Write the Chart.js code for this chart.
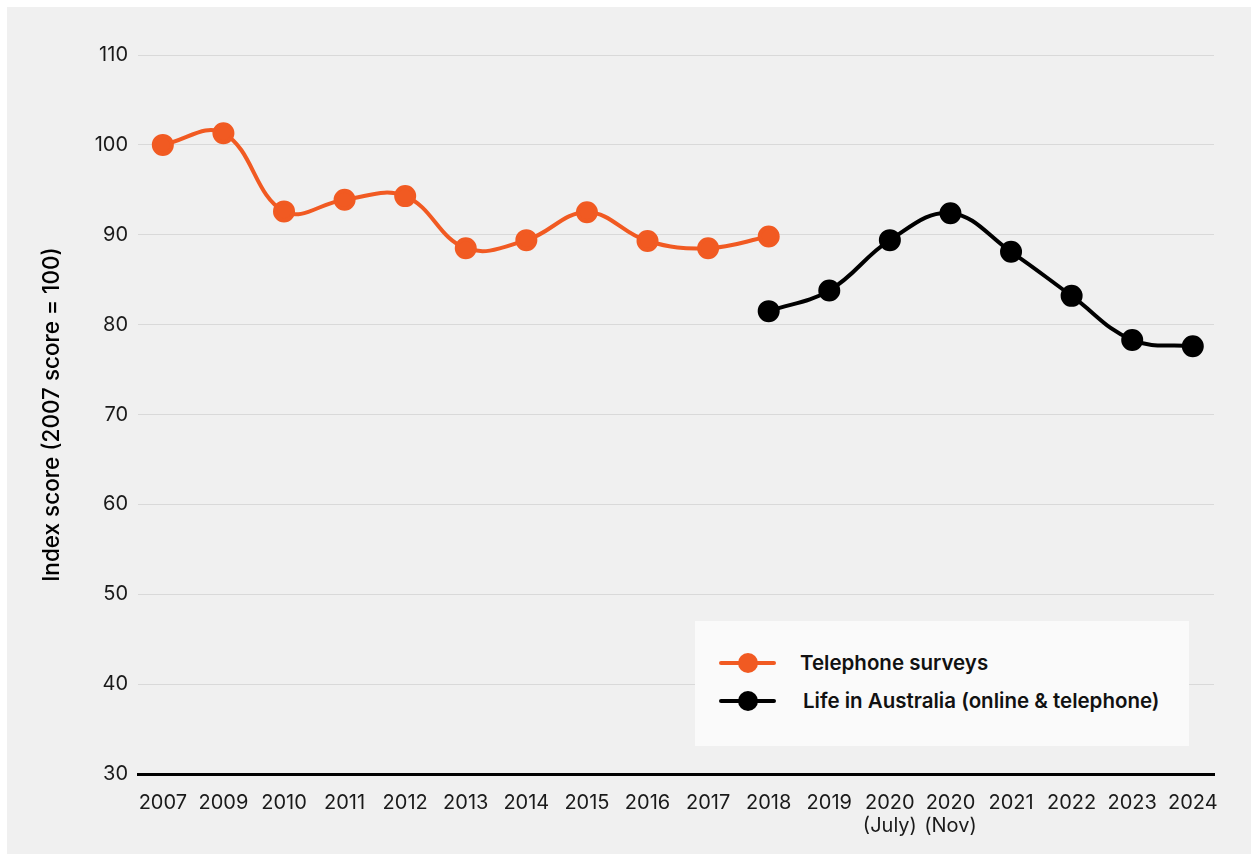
<!DOCTYPE html>
<html>
<head>
<meta charset="utf-8">
<script src="https://cdn.jsdelivr.net/npm/chart.js@4/dist/chart.umd.min.js"></script>
<style>
  body { margin: 0; background: #ffffff; }
  #wrap { position: absolute; left: 7px; top: 7px; width: 1244px; height: 847px; background: #f0f0f0; }
  #legend { position: absolute; left: 695px; top: 621px; width: 494px; height: 125px; background: #fafafa;
            font-family: Inter, "Noto Sans", sans-serif; font-weight: 600; font-size: 20.5px; color: #111; }
  .item { position: absolute; left: 24px; height: 26px; }
  .swatch { position: absolute; left: 0; top: 11px; width: 57px; height: 4px; border-radius: 2px; }
  .dot { position: absolute; left: 19px; top: 3px; width: 20px; height: 20px; border-radius: 50%; }
  .txt { position: absolute; top: 0px; white-space: nowrap; }
</style>
</head>
<body>
<div id="wrap"><canvas id="chart"></canvas></div>
<div id="legend"></div>
<script>
const ORANGE = "#f15a22";
const BLACK = "#000000";

const years = ["2007", "2009", "2010", "2011", "2012", "2013", "2014", "2015", "2016",
    "2017", "2018", "2019", ["2020", "(July)"], ["2020", "(Nov)"], "2021", "2022", "2023", "2024"];
const telephone = [100.0, 101.3, 92.6, 93.9, 94.3, 88.5, 89.4, 92.5, 89.3, 88.5, 89.8,
    null, null, null, null, null, null, null];
const lifeInAustralia = [null, null, null, null, null, null, null, null, null, null, 81.5,
    83.8, 89.4, 92.4, 88.1, 83.2, 78.3, 77.6];
const yTicks = [30, 40, 50, 60, 70, 80, 90, 100, 110];

function toPoints(values) {
    return values.map((v, i) => ({ x: i, y: v }));
}

const tickFont = { family: "Inter, 'Noto Sans', sans-serif", size: 20, lineHeight: 1.15 };

const chart = new Chart(document.getElementById("chart"), {
    type: "line",
    data: {
        datasets: [{
            label: "Telephone surveys",
            data: toPoints(telephone),
            borderColor: ORANGE,
            backgroundColor: ORANGE,
            borderWidth: 4,
            pointRadius: 9,
            tension: 0.4,
        }, {
            label: "Life in Australia (online & telephone)",
            data: toPoints(lifeInAustralia),
            borderColor: BLACK,
            backgroundColor: BLACK,
            borderWidth: 4,
            pointRadius: 9,
            tension: 0.4,
        }]
    },
    options: {
        responsive: true,
        maintainAspectRatio: false,
        animation: false,
        layout: { padding: { top: 48, right: 37, left: 0, bottom: 0 } },
        plugins: {
            legend: { display: false },
            tooltip: { enabled: false }
        },
        scales: {
            x: {
                type: "linear",
                min: -0.41,
                max: 17.35,
                afterBuildTicks: axis => { axis.ticks = years.map((_, i) => ({ value: i })); },
                afterFit: axis => { axis.height = 80; },
                ticks: {
                    callback: v => years[v],
                    color: "#1a1a1a",
                    font: tickFont,
                    padding: 17,
                    maxRotation: 0,
                    autoSkip: false
                },
                grid: { display: false, drawTicks: false },
                border: { color: "#000", width: 3 }
            },
            y: {
                min: 30,
                max: 110,
                afterBuildTicks: axis => { axis.ticks = yTicks.map(v => ({ value: v })); },
                afterFit: axis => { axis.width = 131; },
                ticks: { color: "#1a1a1a", font: tickFont, padding: 10 },
                grid: { color: "#d9d9d9", lineWidth: 1, drawTicks: false },
                border: { display: false },
                title: {
                    display: true,
                    text: "Index score (2007 score = 100)",
                    color: "#000",
                    font: { family: "Inter, 'Noto Sans', sans-serif", size: 22.5, weight: "500" },
                    padding: { top: 32, bottom: 0 }
                }
            }
        }
    }
});

// legend box built from the dataset labels
const legend = document.getElementById("legend");
chart.data.datasets.forEach((ds, i) => {
    const item = document.createElement("div");
    item.className = "item";
    item.style.top = (29 + i * 38) + "px";
    item.innerHTML = "<div class='swatch' style='background:" + ds.borderColor + "'></div>" +
        "<div class='dot' style='background:" + ds.borderColor + "'></div>" +
        "<div class='txt' style='left:" + (81 + i * 3) + "px'>" + ds.label.replace("&", "&amp;") + "</div>";
    legend.appendChild(item);
});
</script>
</body>
</html>
